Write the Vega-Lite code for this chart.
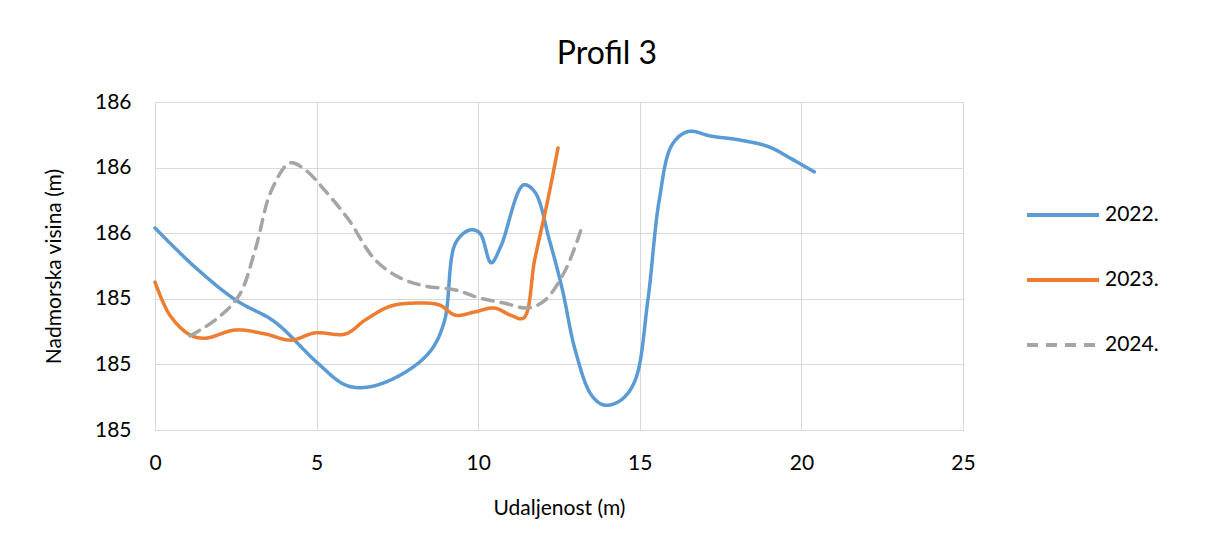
{
  "$schema": "https://vega.github.io/schema/vega-lite/v6.json",
  "autosize": "none",
  "width": 808,
  "height": 328,
  "padding": {"left": 155, "top": 102, "right": 245, "bottom": 124},
  "background": "white",
  "config": {
    "font": "Lato",
    "view": {"stroke": null},
    "axis": {"labelFont": "Lato", "titleFont": "Lato", "labelFontSize": 21, "titleFontSize": 21, "labelColor": "#000000", "titleColor": "#000000", "titleFontWeight": "normal", "gridColor": "#d9d9d9", "domainColor": "#d9d9d9", "ticks": false, "labelFlush": false}
  },
  "title": {"text": "Profil 3", "fontSize": 32, "font": "Lato", "fontWeight": "normal", "color": "#000000", "anchor": "middle", "dx": 48, "offset": 20},
  "data": {"values": [
    {"x": 0, "y": 185.616, "s": "2022."},
    {"x": 1.2, "y": 185.5, "s": "2022."},
    {"x": 2.5, "y": 185.396, "s": "2022."},
    {"x": 3.7, "y": 185.33, "s": "2022."},
    {"x": 5, "y": 185.207, "s": "2022."},
    {"x": 5.9, "y": 185.137, "s": "2022."},
    {"x": 6.6, "y": 185.131, "s": "2022."},
    {"x": 7.6, "y": 185.168, "s": "2022."},
    {"x": 8.5, "y": 185.238, "s": "2022."},
    {"x": 8.95, "y": 185.33, "s": "2022."},
    {"x": 9.3, "y": 185.57, "s": "2022."},
    {"x": 9.75, "y": 185.61, "s": "2022."},
    {"x": 10.05, "y": 185.6, "s": "2022."},
    {"x": 10.4, "y": 185.51, "s": "2022."},
    {"x": 10.7, "y": 185.56, "s": "2022."},
    {"x": 11.4, "y": 185.747, "s": "2022."},
    {"x": 11.75, "y": 185.726, "s": "2022."},
    {"x": 12.2, "y": 185.58, "s": "2022."},
    {"x": 12.6, "y": 185.43, "s": "2022."},
    {"x": 13.0, "y": 185.244, "s": "2022."},
    {"x": 13.5, "y": 185.107, "s": "2022."},
    {"x": 13.9, "y": 185.076, "s": "2022."},
    {"x": 14.4, "y": 185.09, "s": "2022."},
    {"x": 14.85, "y": 185.15, "s": "2022."},
    {"x": 15.25, "y": 185.396, "s": "2022."},
    {"x": 15.6, "y": 185.7, "s": "2022."},
    {"x": 16.0, "y": 185.87, "s": "2022."},
    {"x": 16.5, "y": 185.91, "s": "2022."},
    {"x": 17.2, "y": 185.896, "s": "2022."},
    {"x": 18.1, "y": 185.884, "s": "2022."},
    {"x": 19.0, "y": 185.863, "s": "2022."},
    {"x": 19.65, "y": 185.829, "s": "2022."},
    {"x": 20.4, "y": 185.787, "s": "2022."},
    {"x": 0, "y": 185.451, "s": "2023."},
    {"x": 0.46, "y": 185.35, "s": "2023."},
    {"x": 1.08, "y": 185.29, "s": "2023."},
    {"x": 1.55, "y": 185.28, "s": "2023."},
    {"x": 2.5, "y": 185.305, "s": "2023."},
    {"x": 3.4, "y": 185.293, "s": "2023."},
    {"x": 4.2, "y": 185.274, "s": "2023."},
    {"x": 4.95, "y": 185.296, "s": "2023."},
    {"x": 5.9, "y": 185.293, "s": "2023."},
    {"x": 6.5, "y": 185.335, "s": "2023."},
    {"x": 7.3, "y": 185.378, "s": "2023."},
    {"x": 8.2, "y": 185.387, "s": "2023."},
    {"x": 8.8, "y": 185.381, "s": "2023."},
    {"x": 9.3, "y": 185.35, "s": "2023."},
    {"x": 9.9, "y": 185.36, "s": "2023."},
    {"x": 10.5, "y": 185.372, "s": "2023."},
    {"x": 11.0, "y": 185.35, "s": "2023."},
    {"x": 11.4, "y": 185.341, "s": "2023."},
    {"x": 11.75, "y": 185.52, "s": "2023."},
    {"x": 12.15, "y": 185.7, "s": "2023."},
    {"x": 12.47, "y": 185.86, "s": "2023."},
    {"x": 1.08, "y": 185.287, "s": "2024."},
    {"x": 1.86, "y": 185.335, "s": "2024."},
    {"x": 2.6, "y": 185.41, "s": "2024."},
    {"x": 3.1, "y": 185.549, "s": "2024."},
    {"x": 3.6, "y": 185.73, "s": "2024."},
    {"x": 4.18, "y": 185.814, "s": "2024."},
    {"x": 4.65, "y": 185.793, "s": "2024."},
    {"x": 5.26, "y": 185.73, "s": "2024."},
    {"x": 6.0, "y": 185.64, "s": "2024."},
    {"x": 6.8, "y": 185.52, "s": "2024."},
    {"x": 7.6, "y": 185.463, "s": "2024."},
    {"x": 8.35, "y": 185.439, "s": "2024."},
    {"x": 9.3, "y": 185.427, "s": "2024."},
    {"x": 10.05, "y": 185.402, "s": "2024."},
    {"x": 10.8, "y": 185.387, "s": "2024."},
    {"x": 11.55, "y": 185.372, "s": "2024."},
    {"x": 12.07, "y": 185.396, "s": "2024."},
    {"x": 12.7, "y": 185.488, "s": "2024."},
    {"x": 13.2, "y": 185.616, "s": "2024."}
  ]},
  "mark": {"type": "line", "interpolate": "catmull-rom", "strokeWidth": 3.5, "strokeCap": "round"},
  "encoding": {
    "x": {"field": "x", "type": "quantitative", "title": "Udaljenost (m)", "scale": {"domain": [0, 25], "nice": false}, "axis": {"values": [0, 5, 10, 15, 20, 25], "labelPadding": 22, "titlePadding": 24}},
    "y": {"field": "y", "type": "quantitative", "title": "Nadmorska visina (m)", "scale": {"domain": [185, 186], "nice": false, "zero": false}, "axis": {"values": [185, 185.2, 185.4, 185.6, 185.8, 186], "format": ".0f", "labelPadding": 24, "titlePadding": 30}},
    "color": {"field": "s", "type": "nominal", "scale": {"domain": ["2022.", "2023.", "2024."], "range": ["#5B9BD5", "#ED7D31", "#A5A5A5"]},
      "legend": {"title": null, "orient": "none", "legendX": 870, "legendY": 75, "symbolType": "stroke", "symbolSize": 5184, "symbolStrokeWidth": 4, "labelFontSize": 21, "labelFont": "Lato", "labelColor": "#000000", "labelOffset": 4, "rowPadding": 17}},
    "strokeDash": {"field": "s", "type": "nominal", "scale": {"domain": ["2022.", "2023.", "2024."], "range": [[1, 0], [1, 0], [11, 8]]}, "legend": null}
  }
}
